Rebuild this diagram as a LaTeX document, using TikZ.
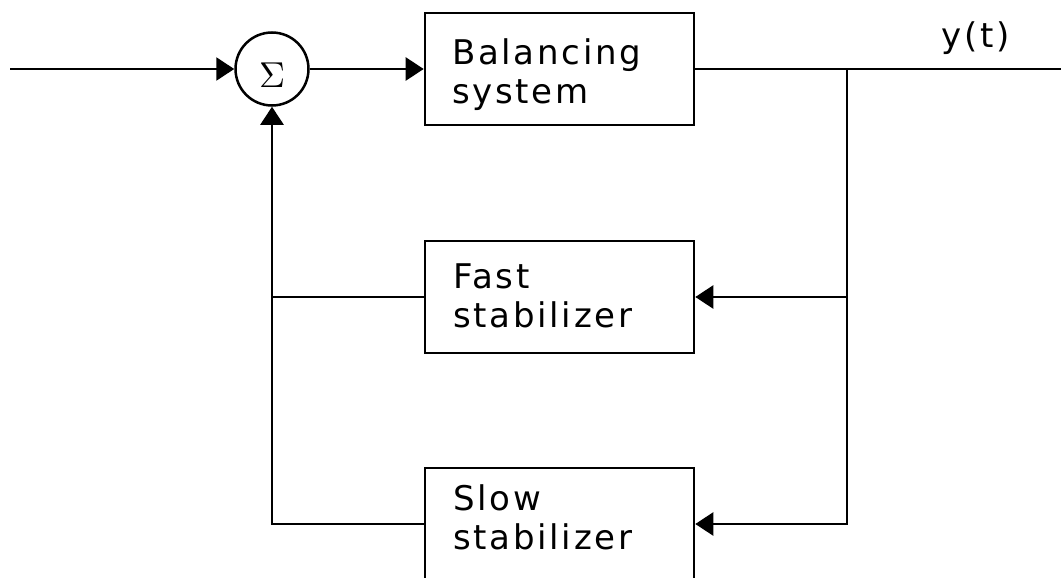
\documentclass[tikz,border=0pt]{standalone}
\usepackage{graphicx}
\usepackage{fontspec}
\setmainfont{DejaVu Sans}[LetterSpace=8]
\usetikzlibrary{arrows.meta}
\begin{document}
\begin{tikzpicture}[x=1pt,y=-1pt,
  wire/.style={line width=2.5pt},
  feed/.style={wire,-{Triangle[length=18pt,width=23pt]}},
  blk/.style={draw,line width=2.6pt,minimum width=269pt,minimum height=112pt,inner sep=0pt},
  lbl/.style={font=\fontsize{34}{39}\selectfont,inner sep=0pt,anchor=base west},
  sumc/.style={draw,circle,line width=2.5pt,minimum size=73pt,inner sep=0pt}]
\useasboundingbox (0,0) rectangle (1061,578);

% summing junction
\node[sumc] (sum) at (272,69) {};
\node[inner sep=0pt] (sig) at ([yshift=-6pt]sum.center) {\scalebox{3.6}{$\Sigma$}};

% blocks
\node[blk] (bal)  at (559.5,69)  {};
\node[blk] (fast) at (559.5,297) {};
\node[blk] (slow) at (559.5,524) {};

\node[lbl] (balt)  at (452,65)  {\begin{tabular}[t]{@{}l@{}}Balancing\\system\end{tabular}};
\node[lbl] (fastt) at (453,288) {\begin{tabular}[t]{@{}l@{}}Fast\\stabilizer\end{tabular}};
\node[lbl] (slowt) at (453,510) {\begin{tabular}[t]{@{}l@{}}Slow\\stabilizer\end{tabular}};
\node[lbl,anchor=base] (yt) at (976,48) {y(t)};

% wiring points
\coordinate (in)  at (10,69);
\coordinate (br)  at (847,69);
\coordinate (out) at (1061,69);
\coordinate (fr)  at (847,297);
\coordinate (sr)  at (847,524);
\coordinate (fl)  at (272,297);
\coordinate (sl)  at (272,524);

% forward path
\draw[feed] (in) -- (sum.west);
\draw[feed] (sum.east) -- (bal.west);
\draw[wire] (bal.east) -- (out);

% feedback paths
\draw[wire,line cap=rect] (br) -- (sr);
\draw[feed] (fr) -- (fast.east);
\draw[feed] (sr) -- (slow.east);
\draw[feed,line join=miter] (slow.west) -- (sl) -- (sum.south);
\draw[wire] (fast.west) -- (fl);
\end{tikzpicture}
\end{document}
